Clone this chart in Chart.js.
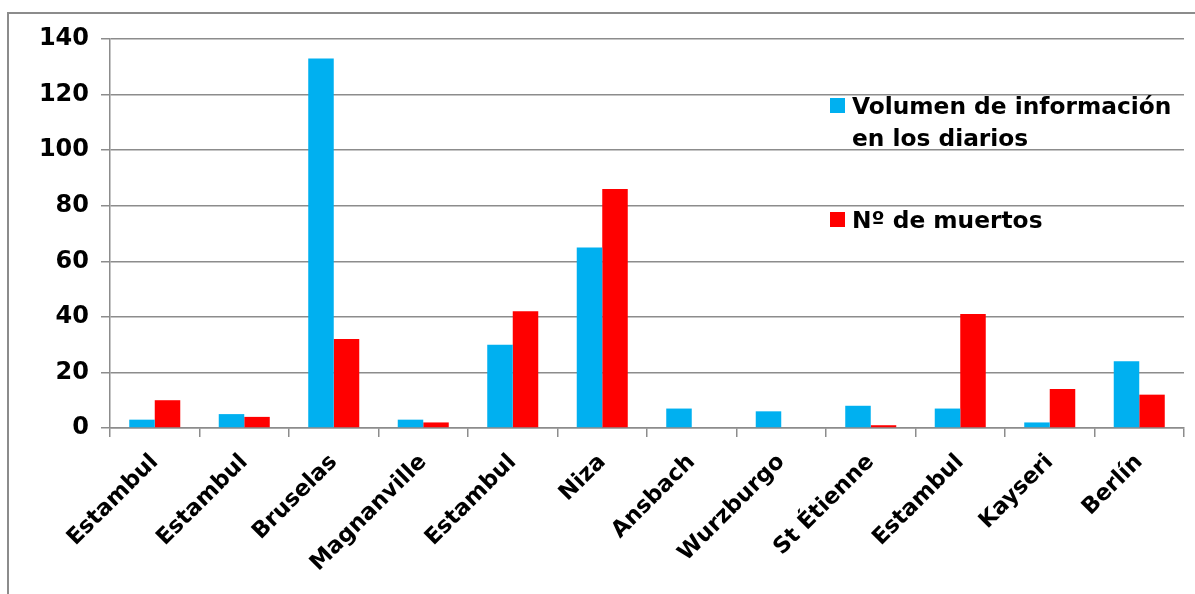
<!DOCTYPE html>
<html>
<head>
<meta charset="utf-8">
<script src="https://cdn.jsdelivr.net/npm/chart.js@4"></script>
<style>
  html, body { margin: 0; padding: 0; background: #fff; overflow: hidden; }
  #wrap { position: relative; width: 1195px; height: 594px; }
  #frame { position: absolute; left: 7px; top: 12px; width: 1200px; height: 600px;
           border-left: 2px solid #8c8c8c; border-top: 2px solid #8c8c8c; }
  canvas { position: absolute; left: 0; top: 0; }
</style>
</head>
<body>
<div id="wrap">
  <div id="frame"></div>
  <canvas id="chart" width="1195" height="594"></canvas>
</div>
<script>
const ciudades = ['Estambul', 'Estambul', 'Bruselas', 'Magnanville', 'Estambul', 'Niza',
                  'Ansbach', 'Wurzburgo', 'St Étienne', 'Estambul', 'Kayseri', 'Berlín'];
const volumenInformacion = [3, 5, 133, 3, 30, 65, 7, 6, 8, 7, 2, 24];
const numMuertos = [10, 4, 32, 2, 42, 86, 0, 0, 1, 41, 14, 12];
const leyendaVolumen = ['Volumen de información', 'en los diarios'];
const leyendaMuertos = ['Nº de muertos'];

const fuente = '"DejaVu Sans", sans-serif';
const gris = '#8c8c8c';

// leyenda dibujada a mano dentro del área del gráfico
const leyendaPlugin = {
    id: 'leyendaManual',
    afterDraw(chart) {
        const ctx = chart.ctx;
        const items = [
            { color: '#00B0F0', lines: leyendaVolumen, y: 114 },
            { color: '#FF0000', lines: leyendaMuertos, y: 228 }
        ];
        ctx.save();
        ctx.font = 'bold 23.3px ' + fuente;
        ctx.textBaseline = 'alphabetic';
        items.forEach(it => {
            ctx.fillStyle = it.color;
            ctx.fillRect(830, it.y - 16, 15, 15);
            ctx.fillStyle = '#000';
            it.lines.forEach((t, i) => ctx.fillText(t, 852, it.y + i * 32));
        });
        ctx.restore();
    }
};

new Chart(document.getElementById('chart').getContext('2d'), {
    type: 'bar',
    data: {
        labels: ciudades,
        datasets: [{
            label: leyendaVolumen.join(' '),
            data: volumenInformacion,
            backgroundColor: '#00B0F0'
        }, {
            label: leyendaMuertos[0],
            data: numMuertos,
            backgroundColor: '#FF0000'
        }]
    },
    options: {
        responsive: false,
        animation: false,
        layout: { padding: { top: 39, right: 11, left: 0, bottom: 0 } },
        datasets: { bar: { barPercentage: 1, categoryPercentage: 0.57 } },
        plugins: { legend: { display: false }, tooltip: { enabled: false } },
        scales: {
            x: {
                grid: { offset: true, drawOnChartArea: false, drawTicks: true, tickLength: 9, color: gris, lineWidth: 1.5 },
                border: { color: gris, width: 1.5 },
                ticks: {
                    color: '#000',
                    font: { family: fuente, size: 22.5, weight: 'bold' },
                    maxRotation: 45, minRotation: 45, padding: 12
                },
                afterFit(scale) { scale.height = 166; }
            },
            y: {
                min: 0, max: 140,
                ticks: {
                    stepSize: 20, color: '#000', padding: 12,
                    font: { family: fuente, size: 24, weight: 'bold' }
                },
                grid: { color: gris, lineWidth: 1.5, tickLength: 9 },
                border: { color: gris, width: 1.5 },
                afterFit(scale) { scale.width = 110; }
            }
        }
    },
    plugins: [leyendaPlugin]
});
</script>
</body>
</html>
